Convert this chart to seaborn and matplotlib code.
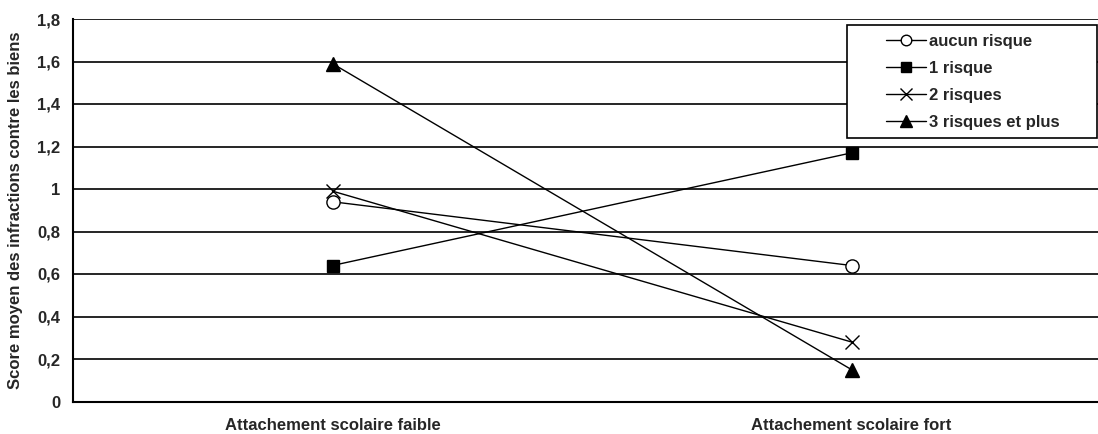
""" Score moyen des infractions contre les biens selon l'attachement scolaire """

import matplotlib
matplotlib.use('Agg')
import matplotlib.pyplot as plt
import pandas as pd
import seaborn as sns
from matplotlib.patches import Rectangle

CATEGORIES = ['Attachement scolaire faible', 'Attachement scolaire fort']
GROUPS = ['aucun risque', '1 risque', '2 risques', '3 risques et plus']
AUCUN = [0.94, 0.64]
UN = [0.64, 1.17]
DEUX = [0.99, 0.28]
TROIS = [1.59, 0.15]
Y_TICKS = [0, 0.2, 0.4, 0.6, 0.8, 1, 1.2, 1.4, 1.6, 1.8]

FONT = {'family': 'Liberation Sans', 'weight': 'bold', 'size': 12}

# marker, face colour, size
STYLES = [('o', 'white', 9.5), ('s', 'black', 9), ('x', 'black', 10), ('^', 'black', 10.5)]


def draw():
    sns.set_style('white')
    plt.rcParams['font.family'] = ['Liberation Sans', 'DejaVu Sans']
    fig = plt.figure(figsize=(10.98, 4.34), dpi=100)
    ax = fig.add_axes([73 / 1098, 32.5 / 434, 1038 / 1098, 382.5 / 434])

    for name, values, (mk, face, ms) in zip(GROUPS, [AUCUN, UN, DEUX, TROIS], STYLES):
        df = pd.DataFrame({'cat': CATEGORIES, 'score': values})
        sns.lineplot(data=df, x='cat', y='score', ax=ax, color='black', lw=1,
                     marker=mk, markersize=ms, markerfacecolor=face,
                     markeredgecolor='black', markeredgewidth=1, label=name)

    ax.set_xlim(-0.5, 1.5)
    ax.set_ylim(0, 1.8)
    ax.set_yticks(Y_TICKS)
    ax.set_yticklabels([f'{v:g}'.replace('.', ',') for v in Y_TICKS], fontdict=FONT)
    ax.set_xticks([0, 1])
    ax.set_xticklabels(CATEGORIES, fontdict=FONT)
    ax.set_xticks([0.5], minor=True)
    ax.tick_params(axis='x', which='major', length=0, pad=12)
    ax.tick_params(axis='x', which='minor', length=5, width=1.5, color='black', direction='out')
    ax.tick_params(axis='y', length=5, width=1, color='black', direction='out', pad=4)
    ax.grid(axis='y', color='black', lw=1.2)
    ax.set_axisbelow(True)
    for side in ['top', 'right']:
        ax.spines[side].set_visible(False)
    for side in ['left', 'bottom']:
        ax.spines[side].set_color('black')
        ax.spines[side].set_linewidth(1.5)
    ax.set_xlabel('')
    ax.set_ylabel('Score moyen des infractions contre les biens', fontdict=FONT, labelpad=10)

    # legend without its own frame, a box drawn around it like the original
    leg = ax.legend(loc='upper left', bbox_to_anchor=(886 / 1098, 1 - 34 / 434),
                    bbox_transform=fig.transFigure, frameon=False,
                    prop=FONT, markerscale=0.8,
                    handlelength=2.4, handletextpad=0.2, labelspacing=0.72,
                    borderpad=0, borderaxespad=0)
    leg.set_zorder(6)
    ax.add_patch(Rectangle((847 / 1098, (434 - 138) / 434), 250 / 1098, 113 / 434,
                           transform=fig.transFigure, facecolor='white',
                           edgecolor='black', lw=1.2, zorder=5, clip_on=False))
    fig.savefig('out.png', dpi=100)


if __name__ == '__main__':
    draw()
